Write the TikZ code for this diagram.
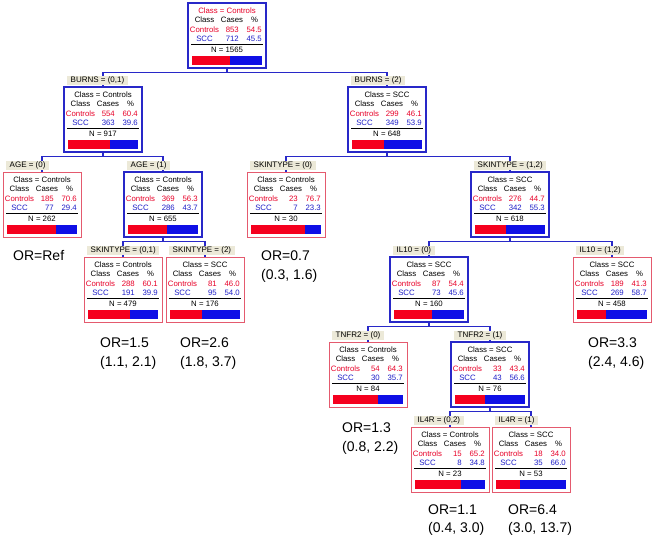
\documentclass[tikz,border=0pt]{standalone}
\usepackage{fontspec}
\setmainfont{Liberation Sans}
\usetikzlibrary{calc}
\definecolor{boxblue}{RGB}{40,40,200}
\definecolor{boxred}{RGB}{228,90,110}
\definecolor{txtred}{RGB}{232,0,40}
\definecolor{txtblue}{RGB}{30,30,200}
\definecolor{barred}{RGB}{245,0,30}
\definecolor{barblue}{RGB}{15,15,230}
\definecolor{lablbg}{RGB}{236,233,216}
\pgfdeclarelayer{background}
\pgfsetlayers{background,main}
\tikzset{
  internal/.style={draw=boxblue, line width=1.6pt},
  leaf/.style={draw=boxred, line width=0.9pt},
  treebox/.style={minimum width=78pt, minimum height=65pt, anchor=north west, inner sep=0pt, outer sep=0pt, fill=white},
  celltxt/.style={font=\fontsize{7.8}{9}\selectfont, inner sep=0pt, text height=5.6pt, text depth=1.5pt},
  splitlab/.style={fill=lablbg, font=\fontsize{8}{9}\selectfont, inner xsep=3.5pt, inner ysep=0pt, minimum height=9pt, text height=5.7pt, text depth=1.5pt, anchor=west},
  conn/.style={draw=boxblue, line width=1.3pt},
  ortxt/.style={font=\fontsize{14}{17}\selectfont, anchor=base west, inner sep=0pt},
}
% #1 name, #2 left, #3 top, #4 style, #5 title, #6 ctrl cases, #7 ctrl pct, #8 scc cases, #9 scc pct
\newcommand\TreeBox[9]{%
  \node[treebox,#4] (#1) at (#2,#3) {};
  \node[celltxt] (#1-ti) at ({#2+39},{#3+8}) {#5};
  \node[celltxt] (#1-hc) at ({#2+16.5},{#3+17.5}) {Class};
  \node[celltxt] (#1-hn) at ({#2+44},{#3+17.5}) {Cases};
  \node[celltxt] (#1-hp) at ({#2+66.5},{#3+17.5}) {\%};
  \node[celltxt,text=txtred] (#1-cc) at ({#2+16.5},{#3+27}) {Controls};
  \node[celltxt,text=txtred,anchor=east] (#1-cn) at ({#2+51},{#3+27}) {#6};
  \node[celltxt,text=txtred,anchor=east] (#1-cp) at ({#2+74},{#3+27}) {#7};
  \node[celltxt,text=txtblue] (#1-sc) at ({#2+16.5},{#3+36}) {SCC};
  \node[celltxt,text=txtblue,anchor=east] (#1-sn) at ({#2+51},{#3+36}) {#8};
  \node[celltxt,text=txtblue,anchor=east] (#1-sp) at ({#2+74},{#3+36}) {#9};
  \draw[black,line width=0.6pt] ({#2+3},{#3+41.5}) -- ({#2+75},{#3+41.5});
  \node[celltxt] (#1-n) at ({#2+39},{#3+47}) {N = \the\numexpr#6+#8\relax};
  \fill[barred] ({#2+4},{#3+53}) rectangle ({#2+4+0.7*#7},{#3+62});
  \fill[barblue] ({#2+4+0.7*#7},{#3+53}) rectangle ({#2+74},{#3+62});
}
% #1 name, #2 left, #3 top, #4 text
\newcommand\SplitLab[4]{%
  \node[splitlab] (#1-lab) at ({#2+3},{#3-7}) {#4};
}
\begin{document}
\begin{tikzpicture}[x=1pt,y=-1pt]
\useasboundingbox (0,0) rectangle (655,538);

\TreeBox{root}{188}{3}{internal}{\textcolor{txtred}{Class = Controls}}{853}{54.5}{712}{45.5}

\TreeBox{b01}{64}{87}{internal}{Class = Controls}{554}{60.4}{363}{39.6}
\SplitLab{b01}{64}{87}{BURNS = (0,1)}
\TreeBox{b2}{348}{87}{internal}{Class = SCC}{299}{46.1}{349}{53.9}
\SplitLab{b2}{348}{87}{BURNS = (2)}

\TreeBox{age0}{3}{172}{leaf}{Class = Controls}{185}{70.6}{77}{29.4}
\SplitLab{age0}{3}{172}{AGE = (0)}
\TreeBox{age1}{124}{172}{internal}{Class = Controls}{369}{56.3}{286}{43.7}
\SplitLab{age1}{124}{172}{AGE = (1)}
\TreeBox{sk0}{247}{172}{leaf}{Class = Controls}{23}{76.7}{7}{23.3}
\SplitLab{sk0}{247}{172}{SKINTYPE = (0)}
\TreeBox{sk12}{471}{172}{internal}{Class = SCC}{276}{44.7}{342}{55.3}
\SplitLab{sk12}{471}{172}{SKINTYPE = (1,2)}

\TreeBox{sk01}{84}{257}{leaf}{Class = Controls}{288}{60.1}{191}{39.9}
\SplitLab{sk01}{84}{257}{SKINTYPE = (0,1)}
\TreeBox{sk2}{166}{257}{leaf}{Class = SCC}{81}{46.0}{95}{54.0}
\SplitLab{sk2}{166}{257}{SKINTYPE = (2)}
\TreeBox{il0}{390}{257}{internal}{Class = SCC}{87}{54.4}{73}{45.6}
\SplitLab{il0}{390}{257}{IL10 = (0)}
\TreeBox{il12}{573}{257}{leaf}{Class = SCC}{189}{41.3}{269}{58.7}
\SplitLab{il12}{573}{257}{IL10 = (1,2)}

\TreeBox{tn0}{329}{342}{leaf}{Class = Controls}{54}{64.3}{30}{35.7}
\SplitLab{tn0}{329}{342}{TNFR2 = (0)}
\TreeBox{tn1}{451}{342}{internal}{Class = SCC}{33}{43.4}{43}{56.6}
\SplitLab{tn1}{451}{342}{TNFR2 = (1)}

\TreeBox{ila}{411}{427}{leaf}{Class = Controls}{15}{65.2}{8}{34.8}
\SplitLab{ila}{411}{427}{IL4R = (0,2)}
\TreeBox{ilb}{492}{427}{leaf}{Class = SCC}{18}{34.0}{35}{66.0}
\SplitLab{ilb}{492}{427}{IL4R = (1)}

\node[ortxt] (orref) at (13,260.5) {OR=Ref};
\node[ortxt] (or07a) at (261,260.5) {OR=0.7};
\node[ortxt] (or07b) at (261,279) {(0.3, 1.6)};
\node[ortxt] (or15a) at (100,347) {OR=1.5};
\node[ortxt] (or15b) at (100,366) {(1.1, 2.1)};
\node[ortxt] (or26a) at (180,347) {OR=2.6};
\node[ortxt] (or26b) at (180,366) {(1.8, 3.7)};
\node[ortxt] (or33a) at (588,347) {OR=3.3};
\node[ortxt] (or33b) at (588,366) {(2.4, 4.6)};
\node[ortxt] (or13a) at (342,432) {OR=1.3};
\node[ortxt] (or13b) at (342,451) {(0.8, 2.2)};
\node[ortxt] (or11a) at (428,514) {OR=1.1};
\node[ortxt] (or11b) at (428,532) {(0.4, 3.0)};
\node[ortxt] (or64a) at (508,514) {OR=6.4};
\node[ortxt] (or64b) at (508,532) {(3.0, 13.7)};

\begin{pgfonlayer}{background}
\fill[white] (0,0) rectangle (655,538);
\draw[conn] (root.south) -- ++(0,4.5) -| (b01.north);
\draw[conn] (root.south) -- ++(0,4.5) -| (b2.north);
\draw[conn] (b01.south) -- ++(0,4.5) -| (age0.north);
\draw[conn] (b01.south) -- ++(0,4.5) -| (age1.north);
\draw[conn] (b2.south) -- ++(0,4.5) -| (sk0.north);
\draw[conn] (b2.south) -- ++(0,4.5) -| (sk12.north);
\draw[conn] (age1.south) -- ++(0,4.5) -| (sk01.north);
\draw[conn] (age1.south) -- ++(0,4.5) -| (sk2.north);
\draw[conn] (sk12.south) -- ++(0,4.5) -| (il0.north);
\draw[conn] (sk12.south) -- ++(0,4.5) -| (il12.north);
\draw[conn] (il0.south) -- ++(0,4.5) -| (tn0.north);
\draw[conn] (il0.south) -- ++(0,4.5) -| (tn1.north);
\draw[conn] (tn1.south) -- ++(0,4.5) -| (ila.north);
\draw[conn] (tn1.south) -- ++(0,4.5) -| (ilb.north);
\end{pgfonlayer}
\end{tikzpicture}
\end{document}
